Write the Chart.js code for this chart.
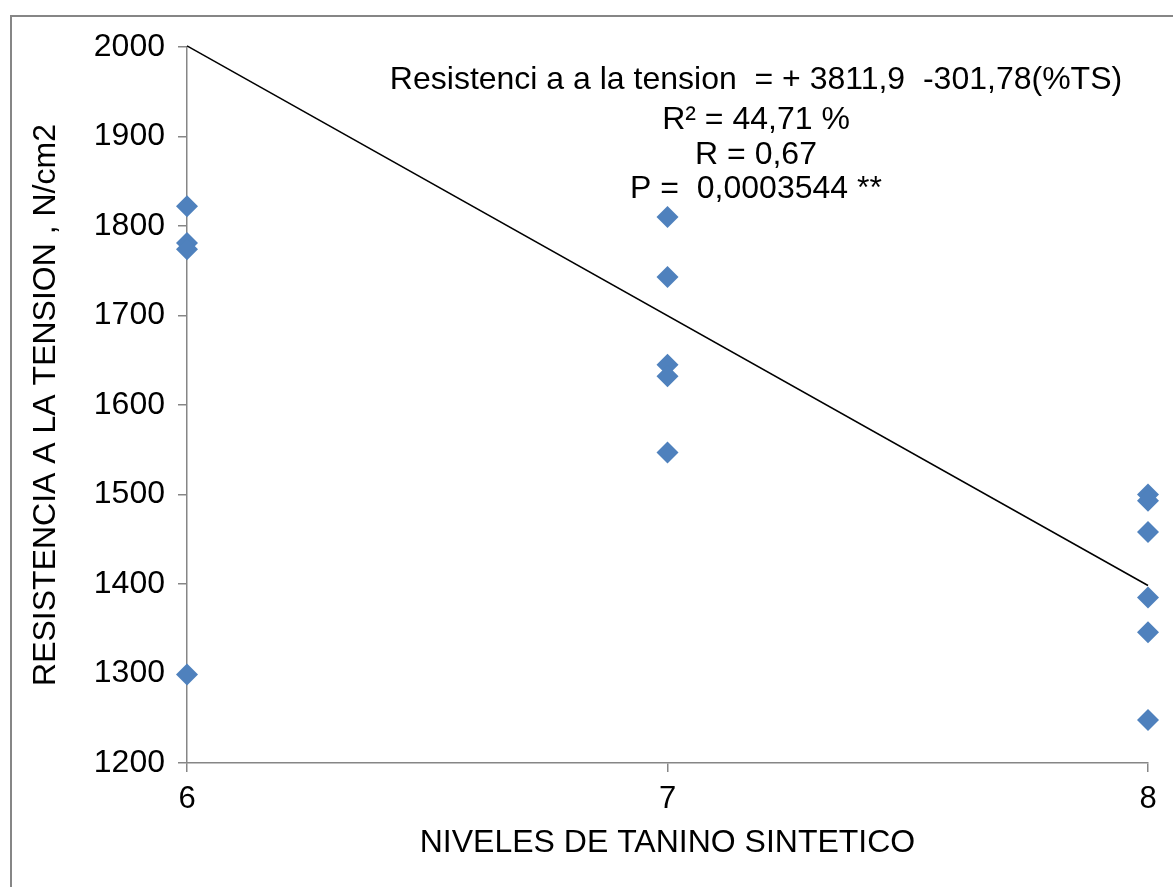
<!DOCTYPE html>
<html>
<head>
<meta charset="utf-8">
<script src="https://cdn.jsdelivr.net/npm/chart.js@4.4.1/dist/chart.umd.min.js"></script>
<style>
  html, body { margin: 0; padding: 0; background: #fff; }
  #wrap { width: 1173px; height: 887px; }
</style>
</head>
<body>
<div id="wrap"><canvas id="chart" width="1173" height="887"></canvas></div>
<script>
// niveles de tanino sintetico (%) y resistencia a la tension (N/cm2)
var nivelX = [6, 6, 6, 6, 7, 7, 7, 7, 7, 8, 8, 8, 8, 8, 8];
var resistencia = [1822, 1781, 1774, 1299, 1810, 1743, 1645, 1632, 1547, 1500, 1493, 1458, 1385, 1346, 1248];

// linea de tendencia
var tendX = [6, 8];
var tendY = [2001.2, 1398.3];

var yTicks = [1200, 1300, 1400, 1500, 1600, 1700, 1800, 1900, 2000];
var xTicks = [6, 7, 8];

var anotacion = [
    'Resistenci a a la tension  = + 3811,9  -301,78(%TS)',
    'R\u00B2 = 44,71 %',
    'R = 0,67',
    'P =  0,0003544 **'
];
var anotacionY = [80, 120, 155, 189];

var gris = '#868686';
var fuente = 'Arial, "Liberation Sans", sans-serif';

var puntos = nivelX.map(function (x, i) { return { x: x, y: resistencia[i] }; });
var tendencia = tendX.map(function (x, i) { return { x: x, y: tendY[i] }; });

// marco y texto de la ecuacion
var marco = {
    id: 'marco',
    beforeDraw: function (chart) {
        var ctx = chart.ctx;
        ctx.save();
        ctx.fillStyle = '#fff';
        ctx.fillRect(0, 0, chart.width, chart.height);
        ctx.strokeStyle = gris;
        ctx.lineWidth = 2;
        ctx.strokeRect(11, 16, 1300, 1000);
        ctx.restore();
    },
    afterDraw: function (chart) {
        var ctx = chart.ctx;
        ctx.save();
        ctx.fillStyle = '#000';
        ctx.font = '32px ' + fuente;
        ctx.textAlign = 'center';
        ctx.textBaseline = 'middle';
        anotacion.forEach(function (t, i) {
            ctx.fillText(t, 756, anotacionY[i]);
        });
        ctx.restore();
    }
};

new Chart(document.getElementById('chart'), {
    type: 'scatter',
    data: {
        datasets: [{
            data: puntos,
            pointStyle: 'rectRot',
            pointRadius: 11,
            pointHoverRadius: 11,
            backgroundColor: '#4F81BD',
            borderColor: '#4F81BD',
            borderWidth: 0,
            clip: false,
            order: 1
        }, {
            type: 'line',
            data: tendencia,
            borderColor: '#000',
            borderWidth: 1.5,
            pointRadius: 0,
            fill: false,
            clip: false,
            order: 2
        }]
    },
    options: {
        responsive: false,
        animation: false,
        layout: { padding: { left: 10, right: 25, top: 47, bottom: 0 } },
        plugins: {
            legend: { display: false },
            tooltip: { enabled: false }
        },
        scales: {
            x: {
                type: 'linear',
                min: 6,
                max: 8,
                afterBuildTicks: function (axis) {
                    axis.ticks = xTicks.map(function (v) { return { value: v }; });
                },
                afterFit: function (axis) { axis.height = 124; },
                grid: { drawOnChartArea: false, tickLength: 9, color: gris, tickColor: gris, lineWidth: 1.5 },
                border: { color: gris, width: 1.5 },
                ticks: {
                    color: '#000', font: { size: 31, family: fuente }, padding: 9, maxRotation: 0,
                    callback: function (v) { return String(v); }
                },
                title: {
                    display: true,
                    text: 'NIVELES DE TANINO SINTETICO',
                    color: '#000',
                    font: { size: 32, family: fuente },
                    padding: { top: 0, bottom: 25 }
                }
            },
            y: {
                min: 1200,
                max: 2000,
                afterBuildTicks: function (axis) {
                    axis.ticks = yTicks.map(function (v) { return { value: v }; });
                },
                afterFit: function (axis) { axis.width = 177; },
                grid: { drawOnChartArea: false, tickLength: 9, color: gris, tickColor: gris, lineWidth: 1.5 },
                border: { color: gris, width: 1.5 },
                ticks: {
                    color: '#000', font: { size: 32, family: fuente }, padding: 13,
                    callback: function (v) { return String(v); }
                },
                title: {
                    display: true,
                    text: 'RESISTENCIA A LA TENSION , N/cm2',
                    color: '#000',
                    font: { size: 32, family: fuente },
                    padding: { top: 17, bottom: 0 }
                }
            }
        }
    },
    plugins: [marco]
});
</script>
</body>
</html>
